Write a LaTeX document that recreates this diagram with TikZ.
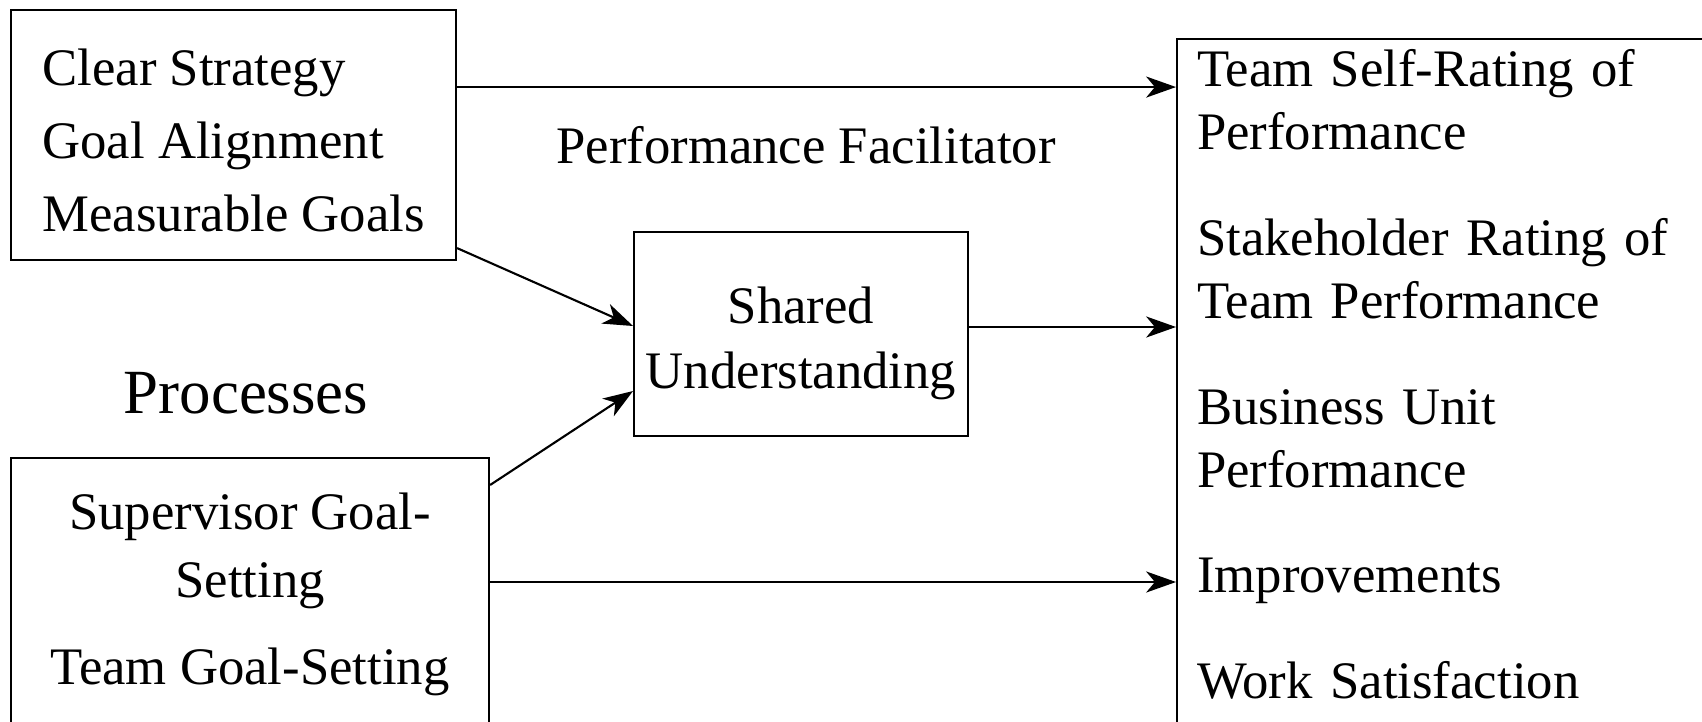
\documentclass[tikz,border=0pt]{standalone}
\usepackage{fontspec}
\setmainfont{Liberation Serif}
\usetikzlibrary{arrows.meta, positioning}

\begin{document}
\begin{tikzpicture}[x=0.1mm, y=-0.1mm, line width=0.6pt,
  >={Stealth[length=8.5pt, width=6pt, inset=2.5pt]},
  box/.style={draw, rectangle, font=\fontsize{15}{18}\selectfont},
  lbl/.style={font=\fontsize{15}{18}\selectfont, inner sep=0pt, anchor=base}]

\useasboundingbox (0,0) rectangle (1702,721);
\clip (0,0) rectangle (1702,721);

\node[box, anchor=north west, align=left, minimum width=4.45cm, minimum height=2.5cm] (goals) at (10,9)
  {\rule{0pt}{13.5pt}Clear Strategy\\[2.8pt]Goal Alignment\\[2.8pt]Measurable Goals};
\node[box, anchor=north west, align=center, minimum width=4.78cm, inner ysep=10pt] (setting) at (10,457)
  {Supervisor Goal-\\[1.3pt]Setting\\[6.7pt]Team Goal-Setting\rule[-30pt]{0pt}{30pt}};
\node[box, align=center, minimum width=3.32cm, minimum height=2.04cm] (shared) at (801,334)
  {\rule{0pt}{16pt}Shared\\[0.5pt]Understanding};
\node[box, anchor=north west, align=left, text width=6cm, inner xsep=0.2cm, inner ysep=3pt] (results) at (1176,38)
  {Team Self-Rating of\\Performance\\[12pt]Stakeholder Rating of\\Team Performance\\[12pt]Business Unit\\Performance\\[12pt]Improvements\\[12pt]Work Satisfaction\rule[-30pt]{0pt}{30pt}};

\node[lbl] (facil) at (806,163) {Performance Facilitator};
\node[lbl, font=\fontsize{17.9}{21}\selectfont] (proc) at (246,413) {Processes};

\draw[->] ([yshift=4.8mm]goals.east) coordinate (g1) -- (g1 -| results.west);
\draw[->] ([yshift=1.3mm]goals.south east) -- ([yshift=0.8mm]shared.west);
\draw[->] ([yshift=-2.8mm]setting.north east) -- ([yshift=-5.7mm]shared.west);
\draw[->] ([yshift=-12.5mm]setting.north east) coordinate (s2) -- (s2 -| results.west);
\draw[->] ([yshift=0.7mm]shared.east) coordinate (u1) -- (u1 -| results.west);

\end{tikzpicture}
\end{document}
